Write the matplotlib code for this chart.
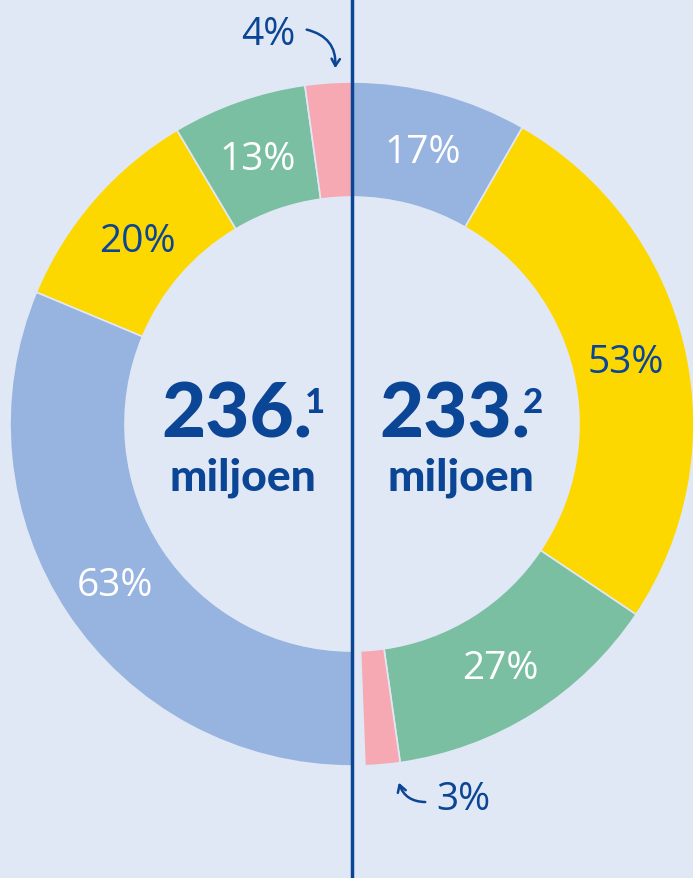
import matplotlib
matplotlib.use("Agg")
import matplotlib.pyplot as plt
import numpy as np
from matplotlib.patches import FancyArrowPatch

# ---- data ----
left_labels = ["63%", "20%", "13%", "4%"]          # bottom -> top (clockwise on left half)
left_shares = [62.6, 20.3, 12.7, 4.4]
right_labels = ["17%", "53%", "27%", "3%"]         # top -> bottom (clockwise on right half)
right_shares = [16.6, 52.2, 26.7, 3.3]
right_gap = 1.2
categories = ["blue", "yellow", "green", "pink"]
totals = ["236.", "233."]
total_sups = ["1", "2"]
unit = "miljoen"

# ---- style ----
BG = "#E1E8F5"
DARK = "#0B4595"
COL = {"blue": "#97B3DF", "yellow": "#FDD700", "green": "#7BBFA2", "pink": "#F6A8B3"}
label_color_left = ["white", DARK, "white", DARK]
label_color_right = ["white", DARK, "white", DARK]

W, H = 693, 879
fig = plt.figure(figsize=(W / 100, H / 100), dpi=100, facecolor=BG)
ax = fig.add_axes([0, 0, 1, 1])
ax.set_facecolor(BG)

cx, cy = 352, H - 425
R, width = 342, 115

values = right_shares + [right_gap] + left_shares
colors = [COL[c] for c in categories] + ["none"] + [COL[c] for c in categories]
wedges, _ = ax.pie(values, colors=colors, startangle=90, counterclock=False,
                   center=(cx, cy), radius=R, frame=True,
                   wedgeprops=dict(width=width, edgecolor=BG, linewidth=1.2))
wedges[len(right_shares)].set_edgecolor("none")

ax.set_xlim(0, W)
ax.set_ylim(0, H)
ax.set_aspect("equal")
ax.axis("off")

pct_font = dict(family=["Open Sans", "DejaVu Sans"], fontsize=28, weight="normal")
rl = R - width / 2
right_w = wedges[:len(right_shares)]
left_w = wedges[len(right_shares) + 1:]
for w, lab, col in zip(right_w, right_labels, label_color_right):
    if lab == "3%":
        continue
    a = np.deg2rad((w.theta1 + w.theta2) / 2)
    ax.text(cx + rl * np.cos(a) - 3, cy + rl * np.sin(a) - 3, lab, color=col,
            ha="center", va="center", **pct_font)
for w, lab, col in zip(left_w, left_labels, label_color_left):
    if lab == "4%":
        continue
    a = np.deg2rad((w.theta1 + w.theta2) / 2)
    ax.text(cx + rl * np.cos(a), cy + rl * np.sin(a) - 3, lab, color=col,
            ha="center", va="center", **pct_font)

# outside labels with curved arrows
ax.text(268, H - 35, left_labels[3], color=DARK, ha="center", va="center", **pct_font)
ax.add_patch(FancyArrowPatch((304, H - 30), (335, H - 72),
                             connectionstyle="arc3,rad=-0.45",
                             arrowstyle="->,head_length=5,head_width=3",
                             color=DARK, lw=1.8))
ax.text(463, H - 800, right_labels[3], color=DARK, ha="center", va="center", **pct_font)
ax.add_patch(FancyArrowPatch((428, H - 803), (398, H - 781),
                             connectionstyle="arc3,rad=-0.4",
                             arrowstyle="->,head_length=5,head_width=3",
                             color=DARK, lw=1.8))

# vertical divider
ax.plot([cx, cx], [0, H], color=DARK, lw=2.5, solid_capstyle="butt")

# centre texts
big = dict(family=["Lato", "DejaVu Sans"], weight="black", color=DARK)
for xc, t, s in [(243, totals[0], total_sups[0]), (461, totals[1], total_sups[1])]:
    ax.text(xc - 6, H - 437, t, ha="center", va="baseline", fontsize=55, **big)
    ax.text(xc + 72, H - 387, s, ha="center", va="top", fontsize=25, **big)
    ax.text(xc, H - 490, unit, ha="center", va="baseline", fontsize=32, **big)

fig.savefig("out.png", dpi=100, facecolor=BG)
